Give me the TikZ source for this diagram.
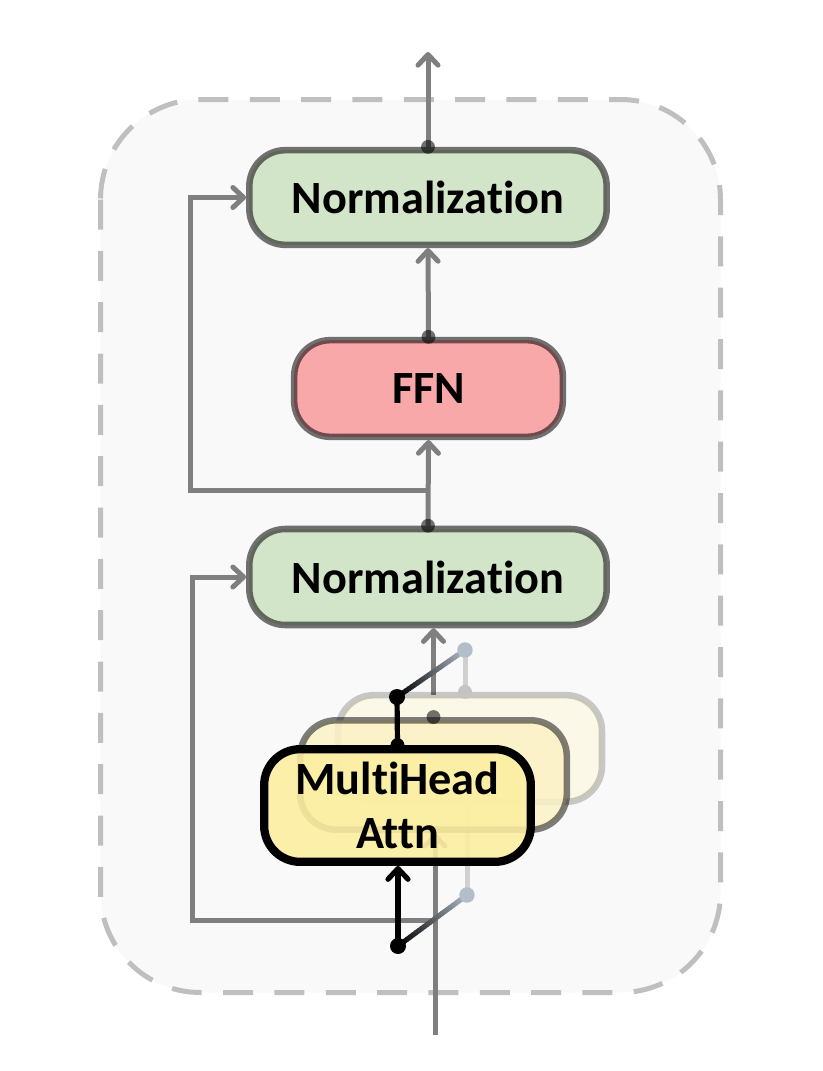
\documentclass[tikz,border=0pt]{standalone}
\usepackage{fontspec}
\setmainfont{Carlito}[Ligatures=NoCommon]
\usetikzlibrary{arrows.meta,calc}
\pgfdeclarelayer{back}
\pgfdeclarelayer{lines}
\pgfsetlayers{back,lines,main}
\definecolor{frameC}{HTML}{BFBFBF}
\definecolor{panelC}{HTML}{F9F9F9}
\definecolor{greenC}{HTML}{D3E5C8}
\definecolor{redC}{HTML}{F9A8AA}
\definecolor{yelA}{HTML}{FCEEA0}
\definecolor{yelB}{HTML}{FBF2C6}
\definecolor{yelC}{HTML}{FBF8E7}
\definecolor{lineC}{HTML}{7F7F7F}
\definecolor{lightC}{HTML}{D0D0D0}
\definecolor{lightdotC}{HTML}{C4C4C4}
\definecolor{steelC}{HTML}{B2BECA}
\begin{document}
\begin{tikzpicture}[x=0.75pt,y=-0.75pt,
  block/.style={rounded corners=27pt, line width=4.9pt, draw=black, draw opacity=0.55,
    font=\fontsize{34.7}{41}\selectfont\bfseries, align=center, inner sep=0pt},
  tipA/.style={-{Straight Barb[length=8pt,width=15pt,round]}},
  conn/.style={draw=lineC, line width=3.75pt, tipA},
  skipline/.style={draw=lineC, line width=3.75pt, line join=miter, tipA},
  blackconn/.style={draw=black, line width=3.9pt, tipA},
  lightline/.style={draw=lightC, line width=3.75pt},
  frame/.style={draw=frameC, fill=panelC, line width=3.75pt, rounded corners=75pt,
    dash pattern=on 22.5pt off 16pt}
]
\useasboundingbox (0,0) rectangle (823,1071);

% boxes
\node[block, fill=yelC, draw opacity=0.2, minimum width=198pt, minimum height=80pt] (mha3) at (470,748.5) {};
\node[block, fill=yelB, fill opacity=0.85, draw opacity=0.5, minimum width=200pt, minimum height=82pt] (mha2) at (433.5,775) {};
\node[block, fill=yelA, fill opacity=0.88, text opacity=1, draw opacity=1, line width=6.2pt, minimum width=200pt, minimum height=84.5pt] (mha1) at (397.5,805.5) {MultiHead\\Attn};
\node[block, fill=greenC, minimum width=268pt, minimum height=72pt] (norm1) at (428,577) {Normalization};
\node[block, fill=redC, minimum width=201.5pt, minimum height=72.5pt] (ffn) at (428.5,388.5) {FFN};
\node[block, fill=greenC, minimum width=268pt, minimum height=71pt] (norm2) at (428,197.5) {Normalization};

% coordinates
\coordinate (top) at (428,52);
\coordinate (s1) at (428,490);
\coordinate (s1l) at (190,490);
\coordinate (in) at (435,1035);
\coordinate (s2) at (435,920);
\coordinate (s2l) at (192,920);
\coordinate (J1) at (397,697);
\coordinate (L1) at (465,650);
\coordinate (J2) at (398,946);
\coordinate (L2) at (467,895);

\begin{pgfonlayer}{back}
\draw[frame] (100.5,99.5) rectangle (720.5,992.5);
\end{pgfonlayer}

\begin{pgfonlayer}{lines}
\draw[conn] (norm2.north) -- (top);
\draw[conn] (ffn.north) -- (norm2.south);
\draw[conn] (norm1.north) -- (ffn.south);
\draw[skipline] (s1) -- (s1l) |- (norm2.west);
\draw[skipline] (s2) -- (s2l) |- (norm1.west);
\draw[conn] (in) -- (in |- mha2.south);
\draw[conn] (mha2.north) -- (mha2.north |- norm1.south);
\draw[lightline] (L2) -- (L2 |- mha3.south);
\end{pgfonlayer}

% dots on gray connectors
\fill[black, opacity=0.55] (norm2.north) circle (5.2pt);
\fill[black, opacity=0.55] (ffn.north) circle (5.2pt);
\fill[black, opacity=0.55] (norm1.north) circle (5.2pt);
\fill[black, opacity=0.55] (mha2.north) circle (5.2pt);

% light switch parts
\draw[lightline] (L1) -- (L1 |- mha3.north);
\fill[lightdotC] (L1 |- mha3.north) circle (5.2pt);

% gradient links
\foreach \i in {0,...,23}{
  \pgfmathsetmacro\pa{100-100*\i/24}
  \draw[line width=3.75pt, draw=black!\pa!steelC] ($(J2)!\i/24!(L2)$) -- ($(J2)!{(\i+1.4)/24}!(L2)$);
  \draw[line width=3.75pt, draw=black!\pa!steelC] ($(J1)!\i/24!(L1)$) -- ($(J1)!{(\i+1.4)/24}!(L1)$);
}
\fill[steelC] (L1) circle (5.8pt);
\fill[steelC] (L2) circle (5.8pt);

% black connectors
\draw[blackconn] (J2) -- (J2 |- mha1.south);
\draw[black, line width=3.9pt] (mha1.north) -- (J1);
\fill[black] (mha1.north) circle (5.2pt);
\fill[black] (J1) circle (6pt);
\fill[black] (J2) circle (6pt);
\end{tikzpicture}
\end{document}
